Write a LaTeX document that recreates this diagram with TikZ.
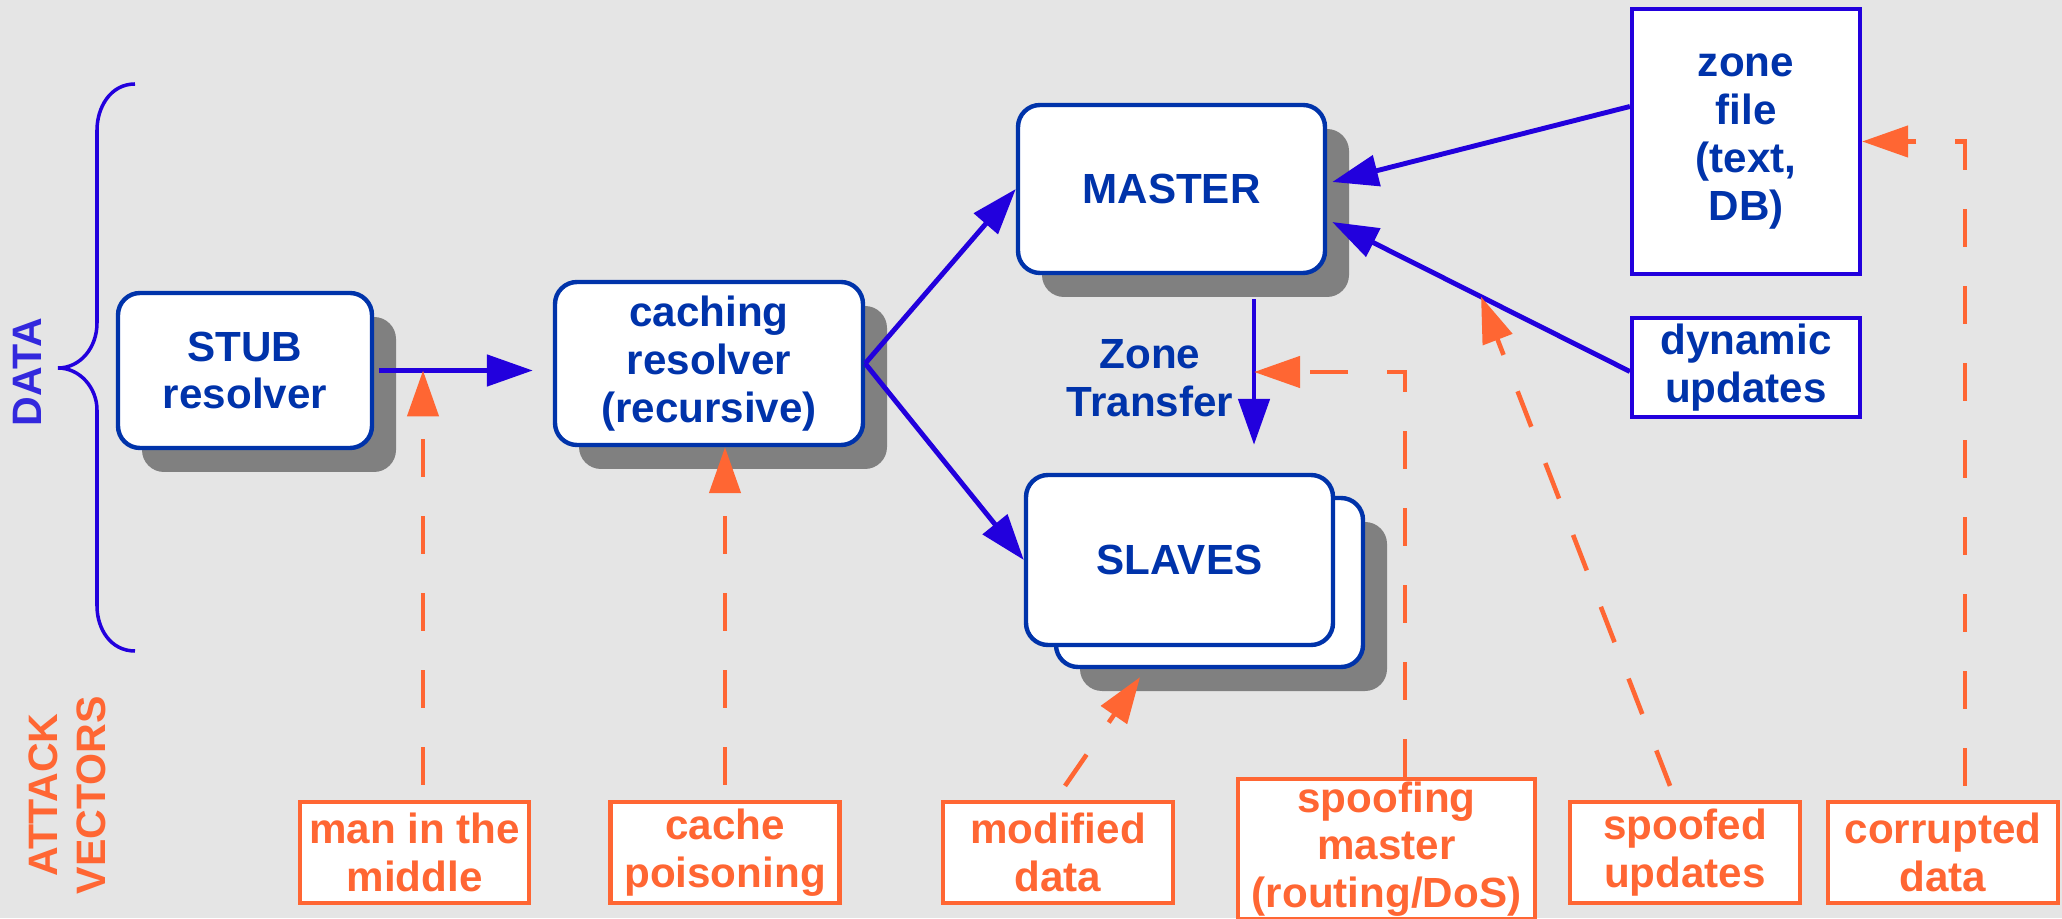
\documentclass[tikz,border=0pt]{standalone}
\usepackage{fontspec}
\setmainfont{Liberation Sans}
\usepackage{tikz}
\usetikzlibrary{arrows.meta, shadows, calc}

\definecolor{bgGray}{RGB}{229,229,229}
\definecolor{shadowGray}{RGB}{128,128,128}
\definecolor{boxBlue}{RGB}{0,51,170}
\definecolor{lineBlue}{RGB}{34,0,221}
\definecolor{dataBlue}{RGB}{51,40,221}
\definecolor{attackOrange}{RGB}{255,102,51}

\newcommand{\boxfont}{\fontsize{12}{13.6}\selectfont\bfseries}

\tikzset{
    server/.style={draw=boxBlue, fill=white, line width=1.25pt, rounded corners=0.22cm, text=boxBlue, font=\boxfont, align=center, inner sep=0pt},
    castshadow/.style={drop shadow={shadow xshift=0.24cm, shadow yshift=-0.24cm, fill=shadowGray, opacity=1}},
    source/.style={draw=lineBlue, fill=white, line width=1.2pt, text=boxBlue, font=\boxfont, align=center, inner sep=0pt, minimum width=2.28cm},
    vector/.style={draw=attackOrange, fill=white, line width=1.2pt, text=attackOrange, font=\boxfont, align=center, inner sep=0pt, minimum width=2.29cm, minimum height=1.01cm},
    link/.style={draw=lineBlue, line width=1.4pt, -{Triangle[length=0.46cm, width=0.31cm]}},
    attack/.style={draw=attackOrange, line width=1.3pt, dash pattern=on 0.38cm off 0.39cm, -{Triangle[length=0.46cm, width=0.31cm]}}
}

\begin{document}
\begin{tikzpicture}
        \useasboundingbox (0,0) rectangle (20.62,9.18);
        \fill[bgGray] (0,0) rectangle (20.62,9.18);

        \node[rotate=90, text=dataBlue, font=\fontsize{11.7}{13.6}\selectfont\bfseries] (datalabel) at (0.27,5.46) {DATA};
        \node[rotate=90, text=attackOrange, font=\fontsize{11.7}{13.6}\selectfont\bfseries, align=center] (attacklabel) at (0.675,1.23) {ATTACK\\VECTORS};
        \draw[lineBlue, line width=1pt] (1.35,8.34) .. controls (1.10,8.34) and (0.97,8.10) .. (0.97,7.88) -- (0.97,5.95)
            .. controls (0.97,5.70) and (0.80,5.50) .. (0.58,5.50)
            .. controls (0.80,5.50) and (0.97,5.30) .. (0.97,5.08) -- (0.97,3.12)
            .. controls (0.97,2.90) and (1.10,2.67) .. (1.35,2.67);

        \node[server, castshadow, minimum width=2.54cm, minimum height=1.55cm] (stub) at (2.45,5.475) {STUB\\resolver};
        \node[server, castshadow, minimum width=3.08cm, minimum height=1.63cm] (cache) at (7.09,5.545) {caching\\resolver\\(recursive)};
        \node[server, castshadow, minimum width=3.07cm, minimum height=1.68cm] (master) at (11.715,7.29) {MASTER};
        \node[server, castshadow, minimum width=3.07cm, minimum height=1.69cm] (slavesback) at (12.095,3.355) {};
        \node[server, minimum width=3.07cm, minimum height=1.70cm] (slaves) at (11.795,3.58) {SLAVES};
        \node[source, minimum height=2.65cm] (zonefile) at (17.46,7.765) {zone\\file\\(text,\\DB)};
        \node[source, minimum height=0.99cm] (dyn) at (17.46,5.505) {dynamic\\updates};
        \node[text=boxBlue, font=\boxfont, align=center] (ztlabel) at (11.50,5.40) {Zone\\Transfer};

        \node[vector] (mitm) at (4.145,0.655) {man in the\\middle};
        \node[vector] (poison) at (7.25,0.655) {cache\\poisoning};
        \node[vector, minimum width=2.30cm] (modified) at (10.58,0.655) {modified\\data};
        \node[vector, minimum width=2.97cm, minimum height=1.40cm] (spoofmaster) at (13.865,0.69) {spoofing\\master\\(routing/DoS)};
        \node[vector, minimum width=2.30cm] (spoofupd) at (16.85,0.655) {spoofed\\updates};
        \node[vector, minimum width=2.30cm] (corrupt) at (19.43,0.655) {corrupted\\data};

        \draw[link, shorten <=0.05cm, shorten >=0.2cm] (stub.east) -- (stub.east -| cache.west);
        \draw[link] (cache.east) -- (master.west);
        \draw[link] (cache.east) -- (slaves.west);
        \draw[link] ([yshift=0.35cm]zonefile.west) -- ([xshift=0.05cm,yshift=0.07cm]master.east);
        \coordinate (dyntip) at ([xshift=0.05cm,yshift=-0.33cm]master.east);
        \draw[link] ([yshift=-0.04cm]dyn.west) -- (dyntip);
        \coordinate (zt) at ([xshift=0.825cm,yshift=-0.24cm]master.south);
        \draw[link, shorten >=0.28cm] (zt) -- (zt |- slaves.north);

        \draw[attack] ([xshift=0.085cm,yshift=0.15cm]mitm.north) -- ([xshift=0.085cm]mitm.north |- stub.east);
        \draw[attack] ([yshift=0.15cm]poison.north) -- (poison.north |- cache.south);
        \draw[attack] ([xshift=0.07cm,yshift=0.14cm]modified.north) -- ([xshift=-0.695cm,yshift=-0.08cm]slavesback.south);
        \draw[attack] ([xshift=0.185cm]spoofmaster.north) |- ([yshift=0.06cm]zt |- ztlabel);
        \draw[attack] ([xshift=-0.15cm,yshift=0.14cm]spoofupd.north) -- ($([yshift=-0.04cm]dyn.west)!0.5!(dyntip)$);
        \draw[attack] ([xshift=0.22cm,yshift=0.14cm]corrupt.north) |- (zonefile.east);

\end{tikzpicture}
\end{document}
